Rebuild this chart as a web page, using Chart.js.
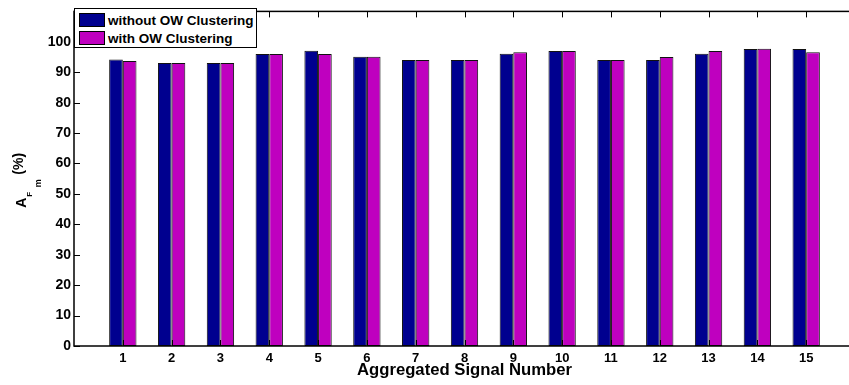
<!DOCTYPE html>
<html>
<head>
<meta charset="utf-8">
<script src="https://cdn.jsdelivr.net/npm/chart.js@4.4.1/dist/chart.umd.min.js"></script>
<style>
  html, body { margin: 0; padding: 0; overflow: hidden; background: #fff; }
  #wrap { position: relative; width: 860px; height: 385px; }
  #legend {
    position: absolute; left: 74px; top: 8px; width: 181px; height: 38px;
    border: 1.5px solid #000; background: #fff;
    font: bold 13.5px "Liberation Sans", Arial, Helvetica, sans-serif; color: #000;
  }
  #legend .item { position: absolute; left: 4px; height: 14px; display: flex; align-items: center; }
  #legend .sw { width: 24px; height: 12px; border: 1px solid #000; margin-right: 3px; }
</style>
</head>
<body>
<div id="wrap">
  <canvas id="chart"></canvas>
  <div id="legend"></div>
</div>
<script>
// Aggregated signal numbers
const categories = ['1', '2', '3', '4', '5', '6', '7', '8', '9', '10', '11', '12', '13', '14', '15'];
// A_Fm (%) per signal
const withoutClustering = [94.2, 93, 93, 96, 97.1, 95.1, 94, 94, 96.1, 97, 94, 94, 96.1, 97.6, 97.6];
const withClustering    = [93.7, 93, 93, 96, 96, 95.1, 94, 94, 96.6, 97, 94, 95, 97, 97.7, 96.6];
const seriesNames = ['without OW Clustering', 'with OW Clustering'];
const seriesColors = ['#00008F', '#BF00BF'];
const yTicks = [0, 10, 20, 30, 40, 50, 60, 70, 80, 90, 100];
const xTitle = 'Aggregated Signal Number';
const yTitleParts = ['A', 'F', 'm', '(%)'];

const FONT = '"Liberation Sans", Arial, Helvetica, sans-serif';

// axis runs from 0 to 16, signals sit on 1..15
const labels = [''].concat(categories, ['']);
const pad = arr => [null].concat(arr, [null]);

// MATLAB style frame with inward ticks
const framePlugin = {
  id: 'frame',
  afterDraw(chart) {
    const { ctx, chartArea: a, scales } = chart;
    ctx.save();
    ctx.strokeStyle = '#000';
    ctx.lineWidth = 1.5;
    ctx.strokeRect(a.left, a.top, a.right - a.left, a.bottom - a.top);
    ctx.lineWidth = 1;
    const len = 6;
    yTicks.forEach(v => {
      const y = Math.round(scales.y.getPixelForValue(v)) + 0.5;
      ctx.beginPath();
      ctx.moveTo(a.left, y); ctx.lineTo(a.left + len, y);
      ctx.moveTo(a.right, y); ctx.lineTo(a.right - len, y);
      ctx.stroke();
    });
    for (let i = 1; i <= categories.length; i++) {
      const x = Math.round(scales.x.getPixelForValue(i)) + 0.5;
      ctx.beginPath();
      ctx.moveTo(x, a.bottom); ctx.lineTo(x, a.bottom - len);
      ctx.moveTo(x, a.top); ctx.lineTo(x, a.top + len);
      ctx.stroke();
    }
    ctx.restore();
  }
};

// y title with nested subscripts: A_{F_m} (%)
const yTitlePlugin = {
  id: 'yTitle',
  afterDraw(chart) {
    const { ctx, chartArea: a } = chart;
    ctx.save();
    ctx.translate(26, (a.top + a.bottom) / 2 + 29);
    ctx.rotate(-Math.PI / 2);
    ctx.fillStyle = '#000';
    ctx.textBaseline = 'alphabetic';
    ctx.textAlign = 'left';
    ctx.font = 'bold 14px ' + FONT;
    ctx.fillText(yTitleParts[0], 0, 0);
    ctx.font = 'bold 8px ' + FONT;
    ctx.fillText(yTitleParts[1], 11, 5.5);
    ctx.font = 'bold 9px ' + FONT;
    ctx.fillText(yTitleParts[2], 20.5, 15);
    ctx.font = 'bold 14px ' + FONT;
    ctx.fillText(yTitleParts[3], 33, -3);
    ctx.restore();
  }
};

const datasets = [withoutClustering, withClustering].map((vals, i) => ({
  label: seriesNames[i],
  data: pad(vals),
  backgroundColor: seriesColors[i],
  borderColor: '#111',
  borderWidth: 1,
  borderSkipped: false,
  barPercentage: 1,
  categoryPercentage: 0.56
}));

new Chart(document.getElementById('chart'), {
  type: 'bar',
  data: { labels: labels, datasets: datasets },
  options: {
    responsive: true,
    maintainAspectRatio: false,
    animation: false,
    layout: { padding: { left: 0, top: 8, right: 4, bottom: 0 } },
    plugins: {
      legend: { display: false },
      tooltip: { enabled: false }
    },
    scales: {
      x: {
        offset: false,
        grid: { display: false, drawTicks: false },
        border: { display: false },
        ticks: {
          color: '#000',
          font: { family: FONT, size: 13, weight: 'bold' },
          padding: 5,
          maxRotation: 0,
          autoSkip: false
        },
        title: {
          display: true,
          text: xTitle,
          color: '#000',
          font: { family: FONT, size: 16.7, weight: 'bold' },
          padding: { top: 0, bottom: 5 }
        },
        afterFit(scale) { scale.height = 39; }
      },
      y: {
        min: 0,
        max: 110,
        grid: { display: false, drawTicks: false },
        border: { display: false },
        ticks: {
          stepSize: 10,
          color: '#000',
          padding: 3,
          font: { family: FONT, size: 14, weight: 'bold' },
          callback: v => (v > 100 ? '' : v)
        },
        afterFit(scale) { scale.width = 74; }
      }
    }
  },
  plugins: [framePlugin, yTitlePlugin]
});

// legend box drawn over the top-left corner of the plot
const legendEl = document.getElementById('legend');
seriesNames.forEach((name, i) => {
  const item = document.createElement('div');
  item.className = 'item';
  item.style.top = (i === 0 ? 4 : 22) + 'px';
  const sw = document.createElement('span');
  sw.className = 'sw';
  sw.style.background = seriesColors[i];
  item.appendChild(sw);
  item.appendChild(document.createTextNode(name));
  legendEl.appendChild(item);
});
</script>
</body>
</html>
